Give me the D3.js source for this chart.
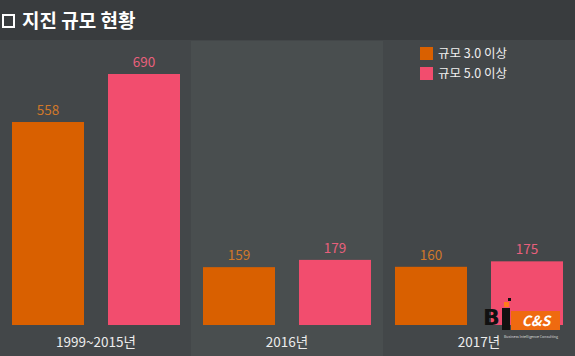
<!DOCTYPE html>
<html><head><meta charset="utf-8">
<script src="https://cdn.jsdelivr.net/npm/d3@7"></script>
<style>html,body{margin:0;padding:0;background:#434749;}svg{display:block;}</style>
</head><body>
<script>
const categories = ["1999~2015년", "2016년", "2017년"];
const seriesNames = ["규모 3.0 이상", "규모 5.0 이상"];
const mag3 = [558, 159, 160];
const mag5 = [690, 179, 175];
const colors = ["#d96000", "#f24d6e"];
const labelColors = ["#d0782a", "#e8607c"];
const title = "지진 규모 현황";

const W = 575, H = 356;
const svg = d3.select("body").append("svg").attr("width", W).attr("height", H)
  .style("font-family", "'Noto Sans CJK KR', 'Noto Sans', sans-serif");

svg.append("rect").attr("width", W).attr("height", H).attr("fill", "#434749");

const x1 = d3.scaleBand().domain(seriesNames).range([12, 180]).paddingInner(0.25).paddingOuter(0);
const y = d3.scaleLinear().domain([0, 690]).range([325, 74]);

// middle highlighted band
svg.append("rect").attr("x", 191).attr("y", 41).attr("width", 192).attr("height", 315).attr("fill", "#494e4f");

// title bar
svg.append("rect").attr("width", W).attr("height", 40).attr("fill", "#393c3e");
svg.append("rect").attr("x", 3).attr("y", 15).attr("width", 11).attr("height", 12)
  .attr("fill", "none").attr("stroke", "#fff").attr("stroke-width", 2);
svg.append("text").attr("x", 22).attr("y", 28).attr("fill", "#fff")
  .attr("font-size", 19).attr("font-weight", "bold").text(title);

const data = categories.map((c, i) => ({c, vals: [mag3[i], mag5[i]]}));
const gx = [12, 203, 395];
const g = svg.selectAll("g.cat").data(data).join("g").attr("class", "cat")
  .attr("transform", (d, i) => `translate(${gx[i] - 12},0)`);

g.selectAll("rect").data(d => d.vals.map((v, j) => ({v, s: seriesNames[j], j})))
  .join("rect")
  .attr("x", d => x1(d.s)).attr("width", x1.bandwidth())
  .attr("y", d => y(d.v)).attr("height", d => y(0) - y(d.v))
  .attr("fill", d => colors[d.j]);

g.selectAll("text.val").data(d => d.vals.map((v, j) => ({v, s: seriesNames[j], j})))
  .join("text").attr("class", "val")
  .attr("x", d => x1(d.s) + x1.bandwidth() / 2).attr("y", d => y(d.v) - 7)
  .attr("text-anchor", "middle").attr("font-size", 13.5)
  .attr("fill", d => labelColors[d.j]).text(d => d.v);

g.append("text").attr("x", 96).attr("y", 347).attr("text-anchor", "middle")
  .attr("font-size", 13.5).attr("fill", "#ececec").text(d => d.c);

// logo watermark
const logo = svg.append("g").attr("transform", "translate(483,298)");
logo.append("text").attr("x", 0).attr("y", 27).attr("font-size", 22).attr("font-weight", "bold")
  .attr("fill", "#111").attr("font-family", "'DejaVu Sans', sans-serif").text("B");
logo.append("rect").attr("x", 19).attr("y", 10).attr("width", 8).attr("height", 22).attr("fill", "#111");
logo.append("rect").attr("x", 21).attr("y", 4).attr("width", 5).attr("height", 5).attr("fill", "#ff7a1a");
logo.append("rect").attr("x", 25).attr("y", 0).attr("width", 3).attr("height", 3).attr("fill", "#111");
logo.append("rect").attr("x", 28).attr("y", 13).attr("width", 49).attr("height", 19).attr("fill", "#ef6a10");
logo.append("text").attr("x", 53).attr("y", 28).attr("text-anchor", "middle").attr("font-size", 14)
  .attr("font-weight", "bold").attr("font-style", "italic").attr("fill", "#fff").text("C&S");
logo.append("text").attr("x", 21).attr("y", 40).attr("text-anchor", "start").attr("font-size", 3.6)
  .attr("fill", "#ddd").text("Business Intelligence Consulting");

// legend
const lg = svg.append("g").selectAll("g").data(seriesNames).join("g")
  .attr("transform", (d, i) => `translate(420,${47 + i * 20})`);
lg.append("rect").attr("width", 13).attr("height", 13).attr("fill", (d, i) => colors[i]);
lg.append("text").attr("x", 18).attr("y", 11).attr("font-size", 12.5).attr("fill", "#f0f0f0").text(d => d);
</script>
</body></html>
